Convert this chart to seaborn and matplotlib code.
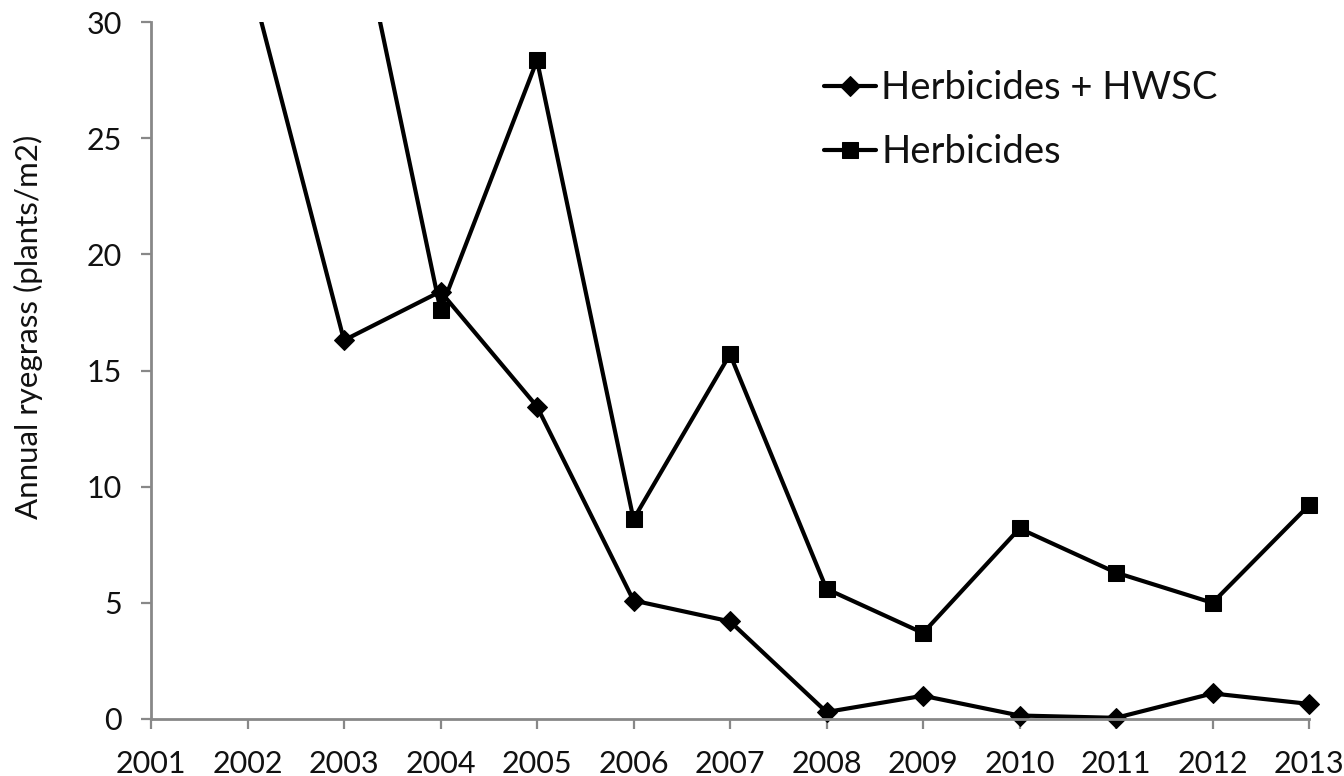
import matplotlib
matplotlib.use("Agg")
import matplotlib.pyplot as plt
import matplotlib.patches as mpatches
import seaborn as sns
import pandas as pd

years_hwsc = [2002, 2003, 2004, 2005, 2006, 2007, 2008, 2009, 2010, 2011, 2012, 2013]
hwsc = [32.3, 16.3, 18.4, 13.45, 5.1, 4.2, 0.3, 1.0, 0.15, 0.05, 1.1, 0.65]
years_herb = [2003, 2004, 2005, 2006, 2007, 2008, 2009, 2010, 2011, 2012, 2013]
herb = [37.4, 17.6, 28.35, 8.6, 15.7, 5.6, 3.7, 8.2, 6.3, 5.0, 9.2]
x_ticks = list(range(2001, 2014))
y_ticks = [0, 5, 10, 15, 20, 25, 30]
label_hwsc = "Herbicides + HWSC"
label_herb = "Herbicides"
y_label = "Annual ryegrass (plants/m2)"

sns.set_style("white")
plt.rcParams['font.family'] = ['Lato', 'DejaVu Sans']

df_a = pd.DataFrame({"year": years_hwsc, "value": hwsc})
df_b = pd.DataFrame({"year": years_herb, "value": herb})

L, R, T, B = 151, 1309, 22, 719
fig = plt.figure(figsize=(13.44, 7.76), dpi=100)
ax = fig.add_axes([L/1344, (776-B)/776, (R-L)/1344, (B-T)/776])

sns.lineplot(data=df_a, x="year", y="value", ax=ax, color="black", lw=3.0,
             marker="D", markersize=10, markeredgecolor="black", label=label_hwsc)
sns.lineplot(data=df_b, x="year", y="value", ax=ax, color="black", lw=3.0,
             marker="s", markersize=12, markeredgecolor="black", label=label_herb)

clip = mpatches.Rectangle((-0.05, -0.1), 1.1, 1.1, transform=ax.transAxes,
                          fill=False, visible=False)
ax.add_patch(clip)
for ln in ax.lines:
    ln.set_clip_path(clip)

ax.set_xlim(2001, 2013)
ax.set_ylim(0, 30)
ax.set_xticks(x_ticks)
ax.set_xticklabels([str(y) for y in x_ticks])
ax.set_yticks(y_ticks)
ax.set_xlabel("")
ax.set_ylabel(y_label, fontsize=22.5, color="#111111")
ax.yaxis.set_label_coords(-0.093, 0.562)

for side in ["top", "right"]:
    ax.spines[side].set_visible(False)
for side in ["left", "bottom"]:
    ax.spines[side].set_color("#888888")
    ax.spines[side].set_linewidth(2)

ax.tick_params(axis="both", which="major", direction="out", color="#888888",
               width=1.6, labelsize=22, labelcolor="#111111",
               bottom=True, left=True)
ax.tick_params(axis="y", length=7, pad=14)
ax.tick_params(axis="x", length=7.5, pad=15)

leg = ax.legend(loc="upper left", bbox_to_anchor=(824/1344, 1 - 70/776),
                bbox_transform=fig.transFigure, frameon=False, fontsize=27.5,
                handlelength=1.35, handletextpad=0.15, labelspacing=0.74,
                borderpad=0, borderaxespad=0)
for t in leg.get_texts():
    t.set_color("#111111")

fig.savefig("out.png", dpi=100)
